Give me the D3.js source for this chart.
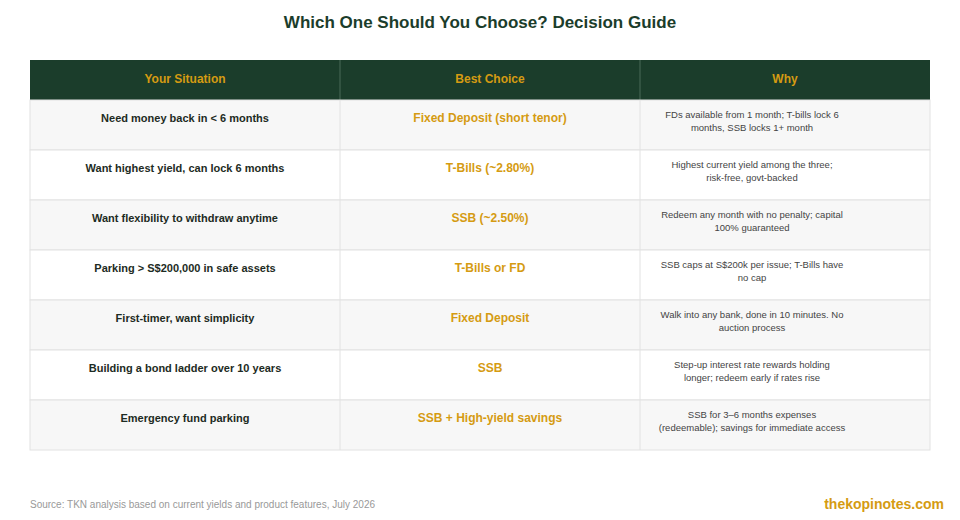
<!DOCTYPE html>
<html>
<head>
<meta charset="utf-8">
<script src="https://cdn.jsdelivr.net/npm/d3@7"></script>
<style>
  body { margin: 0; background: #fff; font-family: "Liberation Sans", Arial, sans-serif; }
</style>
</head>
<body>
<svg id="chart" width="960" height="520"></svg>
<script>
const headers = ["Your Situation", "Best Choice", "Why"];
const situations = [
  "Need money back in < 6 months",
  "Want highest yield, can lock 6 months",
  "Want flexibility to withdraw anytime",
  "Parking > S$200,000 in safe assets",
  "First-timer, want simplicity",
  "Building a bond ladder over 10 years",
  "Emergency fund parking"
];
const choices = [
  "Fixed Deposit (short tenor)",
  "T-Bills (~2.80%)",
  "SSB (~2.50%)",
  "T-Bills or FD",
  "Fixed Deposit",
  "SSB",
  "SSB + High-yield savings"
];
const reasons = [
  ["FDs available from 1 month; T-bills lock 6", "months, SSB locks 1+ month"],
  ["Highest current yield among the three;", "risk-free, govt-backed"],
  ["Redeem any month with no penalty; capital", "100% guaranteed"],
  ["SSB caps at S$200k per issue; T-Bills have", "no cap"],
  ["Walk into any bank, done in 10 minutes. No", "auction process"],
  ["Step-up interest rate rewards holding", "longer; redeem early if rates rise"],
  ["SSB for 3\u20136 months expenses", "(redeemable); savings for immediate access"]
];

const green = "#1b3d2b", gold = "#d59b12";
const svg = d3.select("#chart");

svg.append("text").attr("x", 480).attr("y", 28).attr("text-anchor", "middle")
  .attr("font-size", 17).attr("font-weight", "bold").attr("fill", green)
  .text("Which One Should You Choose? Decision Guide");

const x = d3.scaleOrdinal().domain([0, 1, 2]).range([30, 340, 640]);
const colW = [310, 300, 290];
const y = d3.scaleBand().domain(d3.range(situations.length)).range([100, 450]);

// header
svg.append("rect").attr("x", 30).attr("y", 60).attr("width", 900).attr("height", 40).attr("fill", green);
headers.forEach((h, i) => {
  if (i > 0) svg.append("line").attr("x1", x(i)).attr("x2", x(i)).attr("y1", 60).attr("y2", 100)
    .attr("stroke", "#4a6a58").attr("stroke-width", 1);
  svg.append("text").attr("x", x(i) + colW[i] / 2).attr("y", 83).attr("text-anchor", "middle")
    .attr("font-size", 12).attr("font-weight", "bold").attr("fill", gold).text(h);
});

// rows
const rows = svg.selectAll("g.row").data(situations).join("g").attr("class", "row")
  .attr("transform", (d, i) => `translate(0,${y(i)})`);
rows.append("rect").attr("x", 30).attr("width", 900).attr("height", y.bandwidth())
  .attr("fill", (d, i) => i % 2 === 0 ? "#f7f7f7" : "#ffffff")
  .attr("stroke", "#e2e2e2");
rows.each(function (d, i) {
  const g = d3.select(this);
  [1, 2].forEach(c => g.append("line").attr("x1", x(c)).attr("x2", x(c)).attr("y1", 0)
    .attr("y2", y.bandwidth()).attr("stroke", "#e2e2e2"));
  g.append("text").attr("x", x(0) + colW[0] / 2).attr("y", 22).attr("text-anchor", "middle")
    .attr("font-size", 11).attr("font-weight", "bold").attr("fill", "#1d2b23").text(d);
  g.append("text").attr("x", x(1) + colW[1] / 2).attr("y", 22).attr("text-anchor", "middle")
    .attr("font-size", 12).attr("font-weight", "bold").attr("fill", gold).text(choices[i]);
  const t = g.append("text").attr("text-anchor", "middle").attr("font-size", 9.5).attr("fill", "#444");
  reasons[i].forEach((line, k) => t.append("tspan").attr("x", 752).attr("y", 18 + k * 13).text(line));
});

svg.append("text").attr("x", 30).attr("y", 508).attr("font-size", 10).attr("fill", "#999")
  .text("Source: TKN analysis based on current yields and product features, July 2026");
svg.append("text").attr("x", 944).attr("y", 509).attr("text-anchor", "end").attr("font-size", 14)
  .attr("font-weight", "bold").attr("fill", gold).text("thekopinotes.com");
</script>
</body>
</html>
